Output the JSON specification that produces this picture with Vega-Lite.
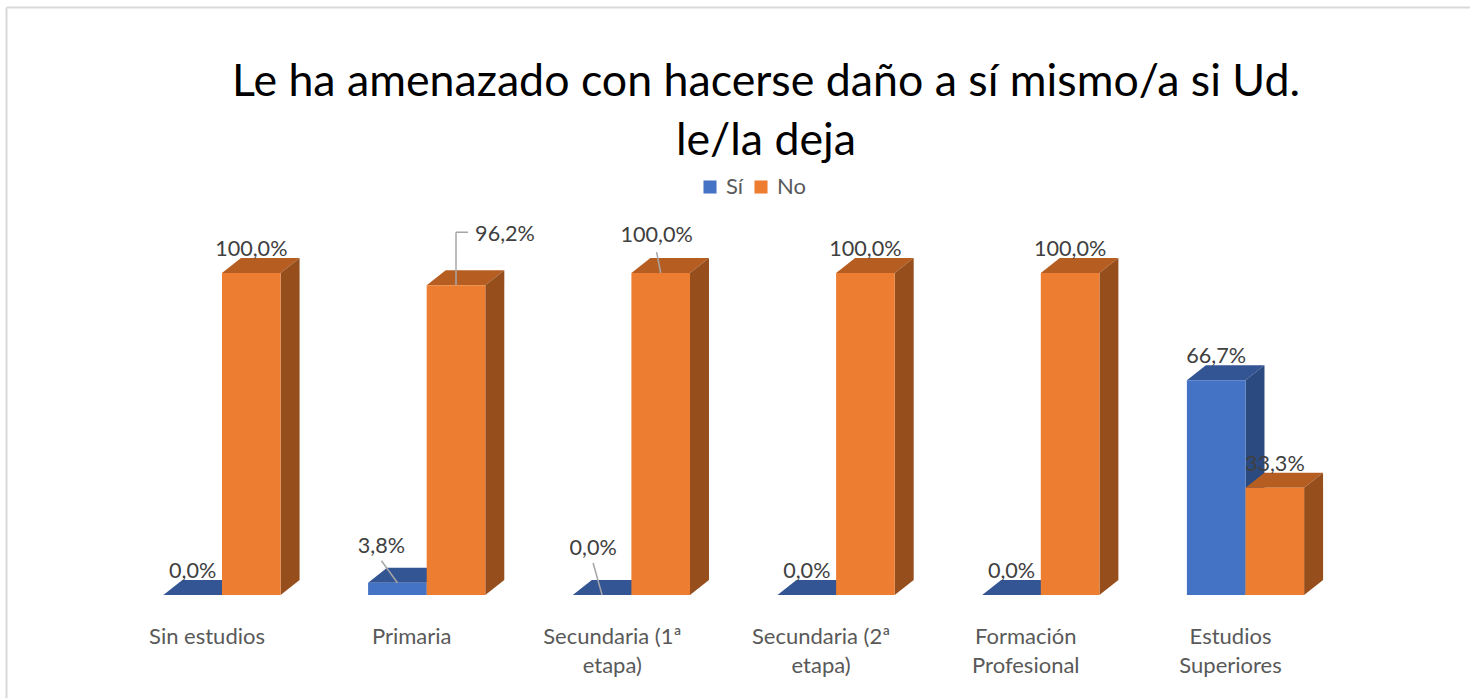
{
"$schema":"https://vega.github.io/schema/vega-lite/v6.json",
"autosize":{"type":"none"},
"padding":{"left":6,"top":7,"right":0,"bottom":0},
"width":1464,"height":691,
"background":"white",
"config":{"view":{"stroke":null},"font":"Lato"},
"title":{"text":["Le ha amenazado con hacerse daño a sí mismo/a si Ud.","le/la deja"],"font":"Lato","fontSize":44.7,"fontWeight":"normal","color":"#000000","anchor":"middle","frame":"group","dx":28,"offset":-158,"lineHeight":59},
"data":{"values":[
{"cat":"Sin estudios","serie":"Sí","valor":0.0},
{"cat":"Sin estudios","serie":"No","valor":100.0},
{"cat":"Primaria","serie":"Sí","valor":3.8},
{"cat":"Primaria","serie":"No","valor":96.2},
{"cat":"Secundaria (1ª\netapa)","serie":"Sí","valor":0.0},
{"cat":"Secundaria (1ª\netapa)","serie":"No","valor":100.0},
{"cat":"Secundaria (2ª\netapa)","serie":"Sí","valor":0.0},
{"cat":"Secundaria (2ª\netapa)","serie":"No","valor":100.0},
{"cat":"Formación\nProfesional","serie":"Sí","valor":0.0},
{"cat":"Formación\nProfesional","serie":"No","valor":100.0},
{"cat":"Estudios\nSuperiores","serie":"Sí","valor":66.7},
{"cat":"Estudios\nSuperiores","serie":"No","valor":33.3}
]},
"transform":[
{"calculate":"indexof(['Sin estudios','Primaria','Secundaria (1ª\\netapa)','Secundaria (2ª\\netapa)','Formación\\nProfesional','Estudios\\nSuperiores'],datum.cat)","as":"i"},
{"calculate":"datum.i-(datum.serie==='Sí'?0.2863:0)","as":"x0"},
{"calculate":"datum.x0+0.2863","as":"x1"},
{"calculate":"datum.x0+0.14315","as":"X"},
{"calculate":"datum.valor+7.2","as":"Y"},
{"calculate":"replace(format(datum.valor,'.1f'),'.',',')+'%'","as":"etiqueta"}
],
"encoding":{
"x":{"field":"X","type":"quantitative","scale":{"domain":[-1.0552,6.0967],"nice":false,"zero":false},"axis":{"orient":"top","title":null,"labels":false,"ticks":false,"grid":false,"domainColor":"#d9d9d9","domainWidth":2}},
"y":{"field":"Y","type":"quantitative","stack":false,"scale":{"domain":[-31.99,182.61],"nice":false,"zero":false},"axis":{"orient":"left","title":null,"labels":false,"ticks":false,"grid":false,"domainColor":"#d9d9d9","domainWidth":2}}
},
"layer":[
{"transform":[{"filter":"datum.serie==='Sí'"},{"calculate":"[0,1,2,3]","as":"k"},{"flatten":["k"]},
{"calculate":"datum.k==0?datum.x0:datum.k==1?datum.x0+0.0927:datum.k==2?datum.x1:datum.x1+0.0927","as":"X"},
{"calculate":"datum.k==3?datum.valor+4.66:datum.valor","as":"Y"},
{"calculate":"datum.k==0?datum.valor:datum.valor+4.66","as":"Y2"}],
"mark":{"type":"area","orient":"vertical","color":"#335593"},
"encoding":{"y2":{"field":"Y2"},"detail":{"field":"cat"}}},
{"transform":[{"filter":"datum.serie==='Sí'"},{"calculate":"[0,1]","as":"k"},{"flatten":["k"]},
{"calculate":"datum.x1+datum.k*0.0927","as":"X"},
{"calculate":"datum.k*4.66","as":"Y"},
{"calculate":"datum.valor+datum.k*4.66","as":"Y2"}],
"mark":{"type":"area","orient":"vertical","color":"#2A4A80"},
"encoding":{"y2":{"field":"Y2"},"detail":{"field":"cat"}}},
{"transform":[{"filter":"datum.serie==='Sí'"},{"calculate":"datum.x0","as":"X"},{"calculate":"0","as":"Y"}],
"mark":{"type":"rect"},
"encoding":{"x2":{"field":"x1"},"y2":{"field":"valor"},
"color":{"field":"serie","type":"nominal","scale":{"domain":["Sí","No"],"range":["#4472C4","#ED7D31"]},
"legend":{"orient":"none","legendX":693,"legendY":169,"direction":"horizontal","title":null,"symbolType":"square","symbolSize":170,"symbolStrokeWidth":0,"labelFont":"Lato","labelFontSize":22,"labelColor":"#595959","columnPadding":6,"labelOffset":5}}}},
{"transform":[{"filter":"datum.serie==='No'"},{"calculate":"[0,1,2,3]","as":"k"},{"flatten":["k"]},
{"calculate":"datum.k==0?datum.x0:datum.k==1?datum.x0+0.0927:datum.k==2?datum.x1:datum.x1+0.0927","as":"X"},
{"calculate":"datum.k==3?datum.valor+4.66:datum.valor","as":"Y"},
{"calculate":"datum.k==0?datum.valor:datum.valor+4.66","as":"Y2"}],
"mark":{"type":"area","orient":"vertical","color":"#B65E22"},
"encoding":{"y2":{"field":"Y2"},"detail":{"field":"cat"}}},
{"transform":[{"filter":"datum.serie==='No'"},{"calculate":"[0,1]","as":"k"},{"flatten":["k"]},
{"calculate":"datum.x1+datum.k*0.0927","as":"X"},
{"calculate":"datum.k*4.66","as":"Y"},
{"calculate":"datum.valor+datum.k*4.66","as":"Y2"}],
"mark":{"type":"area","orient":"vertical","color":"#964E1D"},
"encoding":{"y2":{"field":"Y2"},"detail":{"field":"cat"}}},
{"transform":[{"filter":"datum.serie==='No'"},{"calculate":"datum.x0","as":"X"},{"calculate":"0","as":"Y"}],
"mark":{"type":"rect"},
"encoding":{"x2":{"field":"x1"},"y2":{"field":"valor"},"color":{"field":"serie","type":"nominal"}}},
{"transform":[{"filter":"datum.i==1&&datum.serie==='No'"},{"calculate":"datum.valor","as":"Y"},{"calculate":"datum.valor+16.46","as":"Y2"}],
"mark":{"type":"rule","color":"#a6a6a6","strokeWidth":1.5},
"encoding":{"y2":{"field":"Y2"}}},
{"transform":[{"filter":"datum.i==1&&datum.serie==='No'"},{"calculate":"datum.valor+16.46","as":"Y"},{"calculate":"datum.X+0.0585","as":"X2"}],
"mark":{"type":"rule","color":"#a6a6a6","strokeWidth":1.5},
"encoding":{"x2":{"field":"X2"}}},
{"transform":[{"filter":"datum.i==1&&datum.serie==='Sí'"},{"calculate":"datum.valor","as":"Y"},{"calculate":"datum.valor+6.83","as":"Y2"},{"calculate":"datum.X-0.078","as":"X2"}],
"mark":{"type":"rule","color":"#a6a6a6","strokeWidth":1.5},
"encoding":{"x2":{"field":"X2"},"y2":{"field":"Y2"}}},
{"transform":[{"filter":"datum.i==2&&datum.serie==='Sí'"},{"calculate":"datum.valor","as":"Y"},{"calculate":"datum.valor+9.94","as":"Y2"},{"calculate":"datum.X-0.044","as":"X2"}],
"mark":{"type":"rule","color":"#a6a6a6","strokeWidth":1.5},
"encoding":{"x2":{"field":"X2"},"y2":{"field":"Y2"}}},
{"transform":[{"filter":"datum.i==2&&datum.serie==='No'"},{"calculate":"datum.valor","as":"Y"},{"calculate":"datum.valor+6.5","as":"Y2"},{"calculate":"datum.X-0.02","as":"X2"}],
"mark":{"type":"rule","color":"#a6a6a6","strokeWidth":1.5},
"encoding":{"x2":{"field":"X2"},"y2":{"field":"Y2"}}},
{"transform":[{"filter":"datum.i!=1&&datum.i!=2"}],
"mark":{"type":"text","fontSize":21.6,"color":"#404040","baseline":"middle"},
"encoding":{"text":{"field":"etiqueta"}}},
{"transform":[{"filter":"datum.i==1&&datum.serie==='No'"}],
"mark":{"type":"text","fontSize":21.6,"color":"#404040","baseline":"middle","dx":49,"dy":-27},
"encoding":{"text":{"field":"etiqueta"}}},
{"transform":[{"filter":"datum.i==1&&datum.serie==='Sí'"}],
"mark":{"type":"text","fontSize":21.6,"color":"#404040","baseline":"middle","dx":-16,"dy":-13},
"encoding":{"text":{"field":"etiqueta"}}},
{"transform":[{"filter":"datum.i==2&&datum.serie==='Sí'"}],
"mark":{"type":"text","fontSize":21.6,"color":"#404040","baseline":"middle","dx":-9,"dy":-23},
"encoding":{"text":{"field":"etiqueta"}}},
{"transform":[{"filter":"datum.i==2&&datum.serie==='No'"}],
"mark":{"type":"text","fontSize":21.6,"color":"#404040","baseline":"middle","dx":-4,"dy":-14},
"encoding":{"text":{"field":"etiqueta"}}},
{"transform":[{"filter":"datum.serie==='No'"},{"calculate":"datum.i-0.0732-(datum.i==2?0.02:0)","as":"X"},{"calculate":"-15.2","as":"Y"}],
"mark":{"type":"text","fontSize":22,"color":"#595959","baseline":"alphabetic","lineBreak":"\n","lineHeight":29},
"encoding":{"text":{"field":"cat"}}}
]
}
